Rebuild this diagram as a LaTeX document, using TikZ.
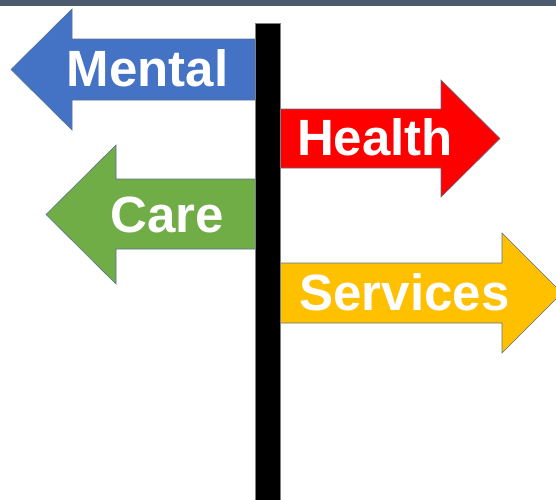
\documentclass[tikz,border=0pt]{standalone}
\usepackage{fontspec}
\setmainfont{Liberation Sans}
\definecolor{blau}{HTML}{4472C4}
\definecolor{rot}{HTML}{FF0000}
\definecolor{gruen}{HTML}{70AD47}
\definecolor{gelb}{HTML}{FFC000}
\definecolor{rahmen}{HTML}{5B7190}
\definecolor{leiste}{HTML}{4B5A6E}
\begin{document}
\begin{tikzpicture}[x=1pt,y=-1pt,
		schild/.style={draw=rahmen, line width=0.6pt, line join=miter},
		wort/.style={text=white, anchor=base, inner sep=0pt, font=\fontsize{51}{51}\selectfont\bfseries}]
		% Bildausschnitt
		\useasboundingbox (0,0) rectangle (556,499);
		\clip (0,0) rectangle (556,499);
		\fill[leiste] (0,0) rectangle (556,5.5);
		
		% zeichne Schilder
		\filldraw[schild, fill=blau] (257,39) -- (72,39) -- (72,9) -- (11,69.5) -- (72,130) -- (72,100) -- (257,100) -- cycle;
		\filldraw[schild, fill=rot] (278,109) -- (441,109) -- (441,80) -- (500,138.5) -- (441,197) -- (441,168) -- (278,168) -- cycle;
		\filldraw[schild, fill=gruen] (257,179) -- (116,179) -- (116,145) -- (46,214.5) -- (116,284) -- (116,249) -- (257,249) -- cycle;
		\filldraw[schild, fill=gelb] (278,263) -- (502,263) -- (502,233) -- (562,293) -- (502,353) -- (502,323) -- (278,323) -- cycle;
		
		% zeichne Pfahl
		\filldraw[fill=black, draw=gray, line width=0.5pt] (255,23) rectangle (280.5,502);
		
		% zeichne Beschriftung
		\node[wort] (mental) at (147.5,86) {Mental};
		\node[wort] (health) at (375,155) {Health};
		\node[wort] (care) at (167.5,232) {Care};
		\node[wort] (services) at (404.5,310) {Services};
	\end{tikzpicture}
\end{document}
